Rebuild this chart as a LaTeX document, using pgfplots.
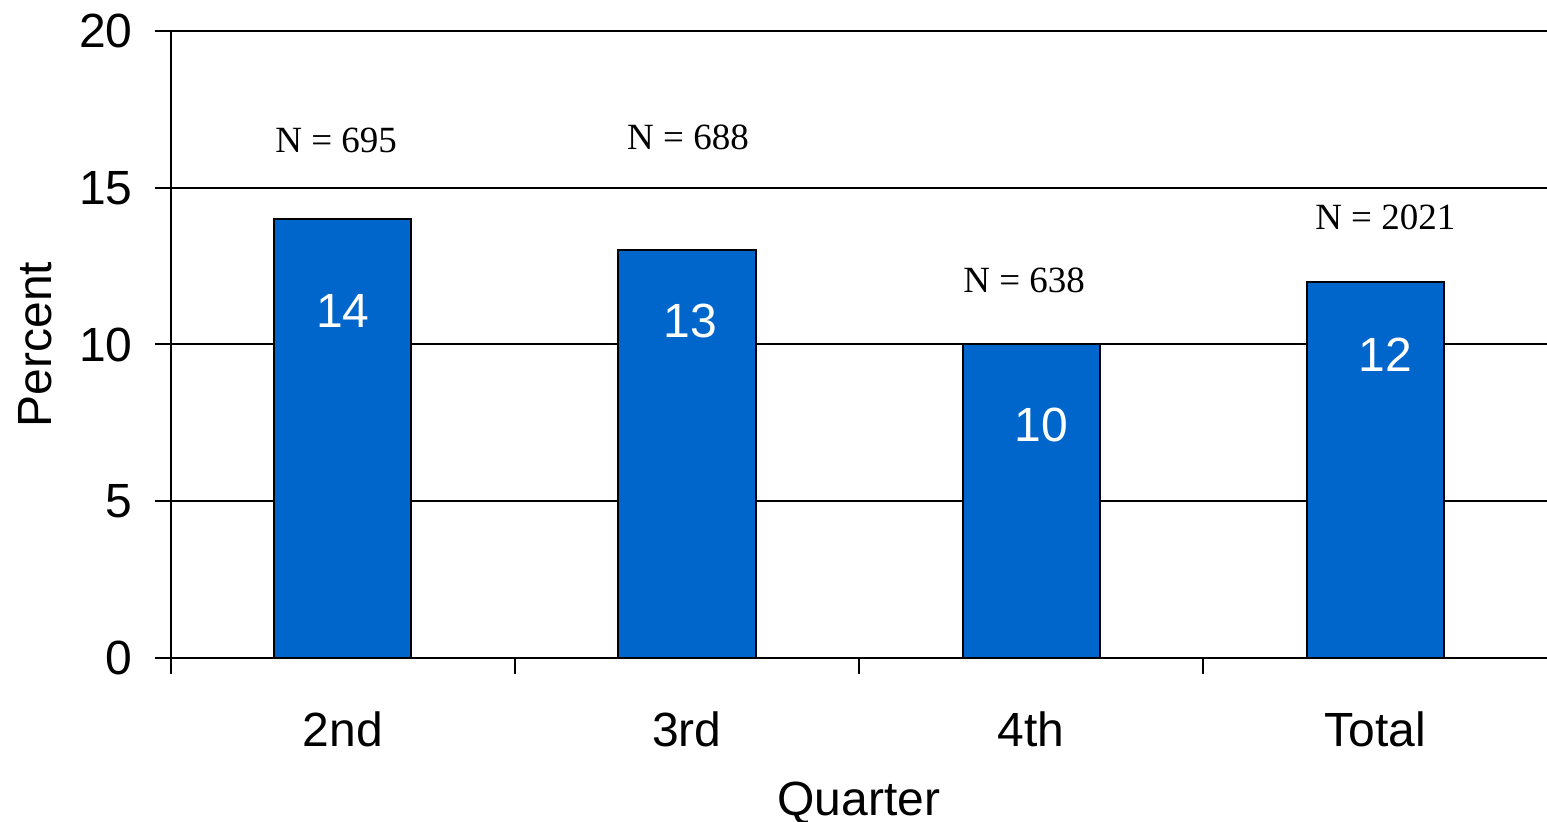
\documentclass[border=0pt]{standalone}
\usepackage{pgfplots}
\pgfplotsset{compat=1.18}
\usepackage{fontspec}
\setmainfont{Liberation Sans}
\newfontfamily\serif{Liberation Serif}
\definecolor{barblue}{HTML}{0066CC}
\begin{document}
\begin{tikzpicture}
\useasboundingbox (-85.5pt,-82pt) rectangle (688pt,329pt);
\begin{axis}[
  scale only axis, width=688pt, height=313.5pt,
  xmin=-0.5, xmax=3.5, ymin=0, ymax=20,
  axis x line*=bottom, axis y line*=left,
  axis line style={-, line width=1pt},
  ytick={0,5,10,15,20},
  ymajorgrids, grid style={black, line width=1pt},
  xtick={-0.5,0.5,1.5,2.5}, xticklabels={},
  extra x ticks={0,1,2,3},
  extra x tick labels={2nd,3rd,4th,Total},
  extra x tick style={major tick length=0pt, grid=none},
  tick style={draw=black, line width=1pt},
  major tick length=8pt, tick align=outside,
  /pgf/number format/assume math mode=true,
  ticklabel style={font=\fontsize{24}{26}\selectfont},
  yticklabel style={inner sep=0pt, anchor=east, xshift=-11pt},
  xticklabel style={inner sep=0pt, anchor=north, yshift=-26.5pt},
  xlabel={Quarter}, ylabel={Percent},
  label style={font=\fontsize{24}{26}\selectfont},
  xlabel style={at={(axis description cs:0.5,-0.231)}, anchor=center},
  ylabel style={at={(axis description cs:-0.0988,0.5)}, anchor=center, rotate=0},
  clip=false,
]
\addplot[ybar, bar width=68.5pt, fill=barblue, draw=black, line width=1pt]
  coordinates {(0,14) (1,13) (2,10) (3,12)};
\node[font=\fontsize{24}{26}\selectfont, text=white] at (axis cs:0,11.07) {14};
\node[font=\fontsize{24}{26}\selectfont, text=white] at (axis cs:1.01,10.75) {13};
\node[font=\fontsize{24}{26}\selectfont, text=white] at (axis cs:2.03,7.43) {10};
\node[font=\fontsize{24}{26}\selectfont, text=white] at (axis cs:3.03,9.67) {12};
\node[font=\serif\fontsize{18.5}{20}\selectfont] at (axis cs:-0.02,16.52) {N = 695};
\node[font=\serif\fontsize{18.5}{20}\selectfont] at (axis cs:1.003,16.62) {N = 688};
\node[font=\serif\fontsize{18.5}{20}\selectfont] at (axis cs:1.98,12.03) {N = 638};
\node[font=\serif\fontsize{18.5}{20}\selectfont] at (axis cs:3.03,14.07) {N = 2021};
\end{axis}
\end{tikzpicture}
\end{document}
